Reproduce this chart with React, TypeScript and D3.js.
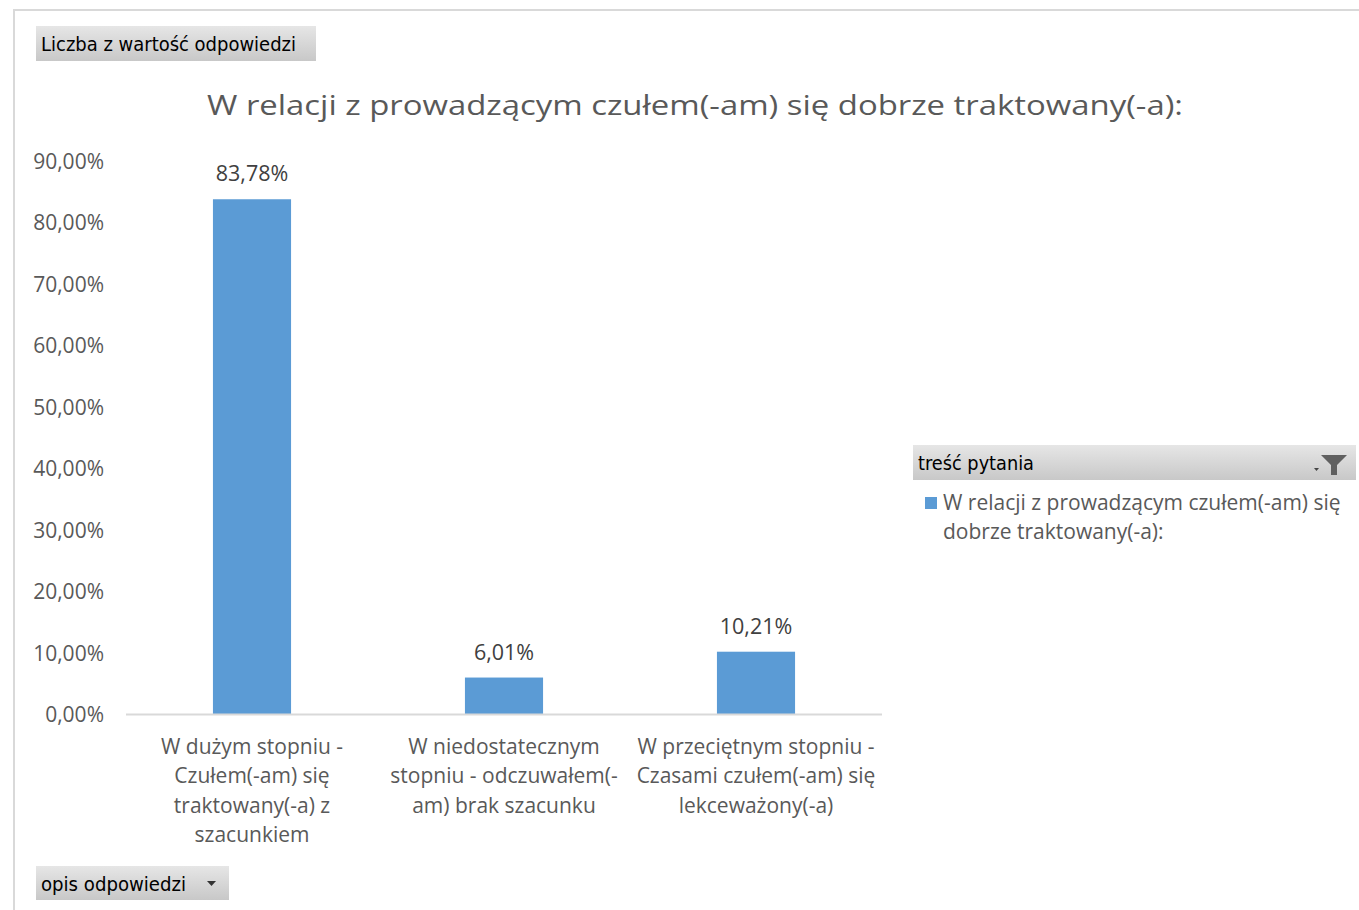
import React from "react";
import * as d3 from "d3";

const categories = [
  ["W dużym stopniu -", "Czułem(-am) się", "traktowany(-a) z", "szacunkiem"],
  ["W niedostatecznym", "stopniu - odczuwałem(-", "am) brak szacunku"],
  ["W przeciętnym stopniu -", "Czasami czułem(-am) się", "lekceważony(-a)"],
];
const values = [83.78, 6.01, 10.21];
const yTicks = [0, 10, 20, 30, 40, 50, 60, 70, 80, 90];
const title = "W relacji z prowadzącym czułem(-am) się dobrze traktowany(-a):";
const seriesName = ["W relacji z prowadzącym czułem(-am) się", "dobrze traktowany(-a):"];

const W = 1359, H = 910;
const font = "'Open Sans', 'Noto Sans', sans-serif";
const narrow = "'Liberation Sans Narrow', 'DejaVu Sans Condensed', sans-serif";
const txt = "#595959";
const blue = "#5B9BD5";

const fmt = (v: number) => v.toFixed(2).replace(".", ",") + "%";

export default function App() {
  const x = d3.scaleBand<number>().domain([0, 1, 2]).range([126, 882]).paddingInner(0.69).paddingOuter(0.345);
  const y = d3.scaleLinear().domain([0, 90]).range([714.5, 161]);
  const band = d3.scaleBand<number>().domain([0, 1, 2]).range([126, 882]);
  return (
    <svg width={W} height={H} style={{ position: "absolute", left: 0, top: 0 }} fontFamily={font}>
      <defs>
        <linearGradient id="btn" x1="0" x2="0" y1="0" y2="1">
          <stop offset="0" stopColor="#e6e6e6" />
          <stop offset="1" stopColor="#c8c8c8" />
        </linearGradient>
      </defs>
      <rect x={0} y={0} width={W} height={H} fill="#fff" />
      <line x1={13} x2={W} y1={10} y2={10} stroke="#d9d9d9" strokeWidth={2} />
      <line x1={14} x2={14} y1={10} y2={H} stroke="#d9d9d9" strokeWidth={2} />

      <rect x={36} y={26} width={280} height={35} fill="url(#btn)" />
      <text x={41} y={51} fontSize={19} fill="#000" fontFamily={narrow} textLength={255} lengthAdjust="spacingAndGlyphs">Liczba z wartość odpowiedzi</text>

      <text x={207} y={115} fontSize={27} fill={txt} textLength={976} lengthAdjust="spacingAndGlyphs">{title}</text>

      {yTicks.map((t) => (
        <text key={t} x={104} y={y(t) + 7.5} textAnchor="end" fontSize={21} fill={txt}>{fmt(t)}</text>
      ))}

      {values.map((v, i) => (
        <g key={i}>
          <rect x={x(i)} y={y(v)} width={x.bandwidth()} height={y(0) - y(v)} fill={blue} />
          <text x={x(i)! + x.bandwidth() / 2} y={y(v) - 18} textAnchor="middle" fontSize={21.5} fill="#404040">{fmt(v)}</text>
        </g>
      ))}
      <line x1={126} x2={882} y1={714.5} y2={714.5} stroke="#d9d9d9" strokeWidth={2} />

      {categories.map((lines, i) => (
        <text key={i} textAnchor="middle" fontSize={21} fill={txt}>
          {lines.map((l, j) => (
            <tspan key={j} x={band(i)! + band.bandwidth() / 2} y={754 + j * 29.3}>{l}</tspan>
          ))}
        </text>
      ))}

      <rect x={913} y={445} width={443} height={35} fill="url(#btn)" />
      <text x={918} y={470} fontSize={20} fill="#000" fontFamily={narrow} textLength={116} lengthAdjust="spacingAndGlyphs">treść pytania</text>
      <path d="M1314,468 h5 l-2.5,3 z" fill="#444" />
      <path d="M1321,455 h26 l-10,10 v10 h-6 v-10 z" fill="#606060" />

      <rect x={925} y={497} width={12} height={12} fill={blue} />
      {seriesName.map((l, j) => (
        <text key={j} x={943} y={510 + j * 29} fontSize={21} fill={txt}>{l}</text>
      ))}

      <rect x={36} y={866} width={193} height={34} fill="url(#btn)" />
      <text x={41} y={891} fontSize={20} fill="#000" fontFamily={narrow} textLength={145} lengthAdjust="spacingAndGlyphs">opis odpowiedzi</text>
      <path d="M207,881 h9 l-4.5,5 z" fill="#333" />
    </svg>
  );
}
